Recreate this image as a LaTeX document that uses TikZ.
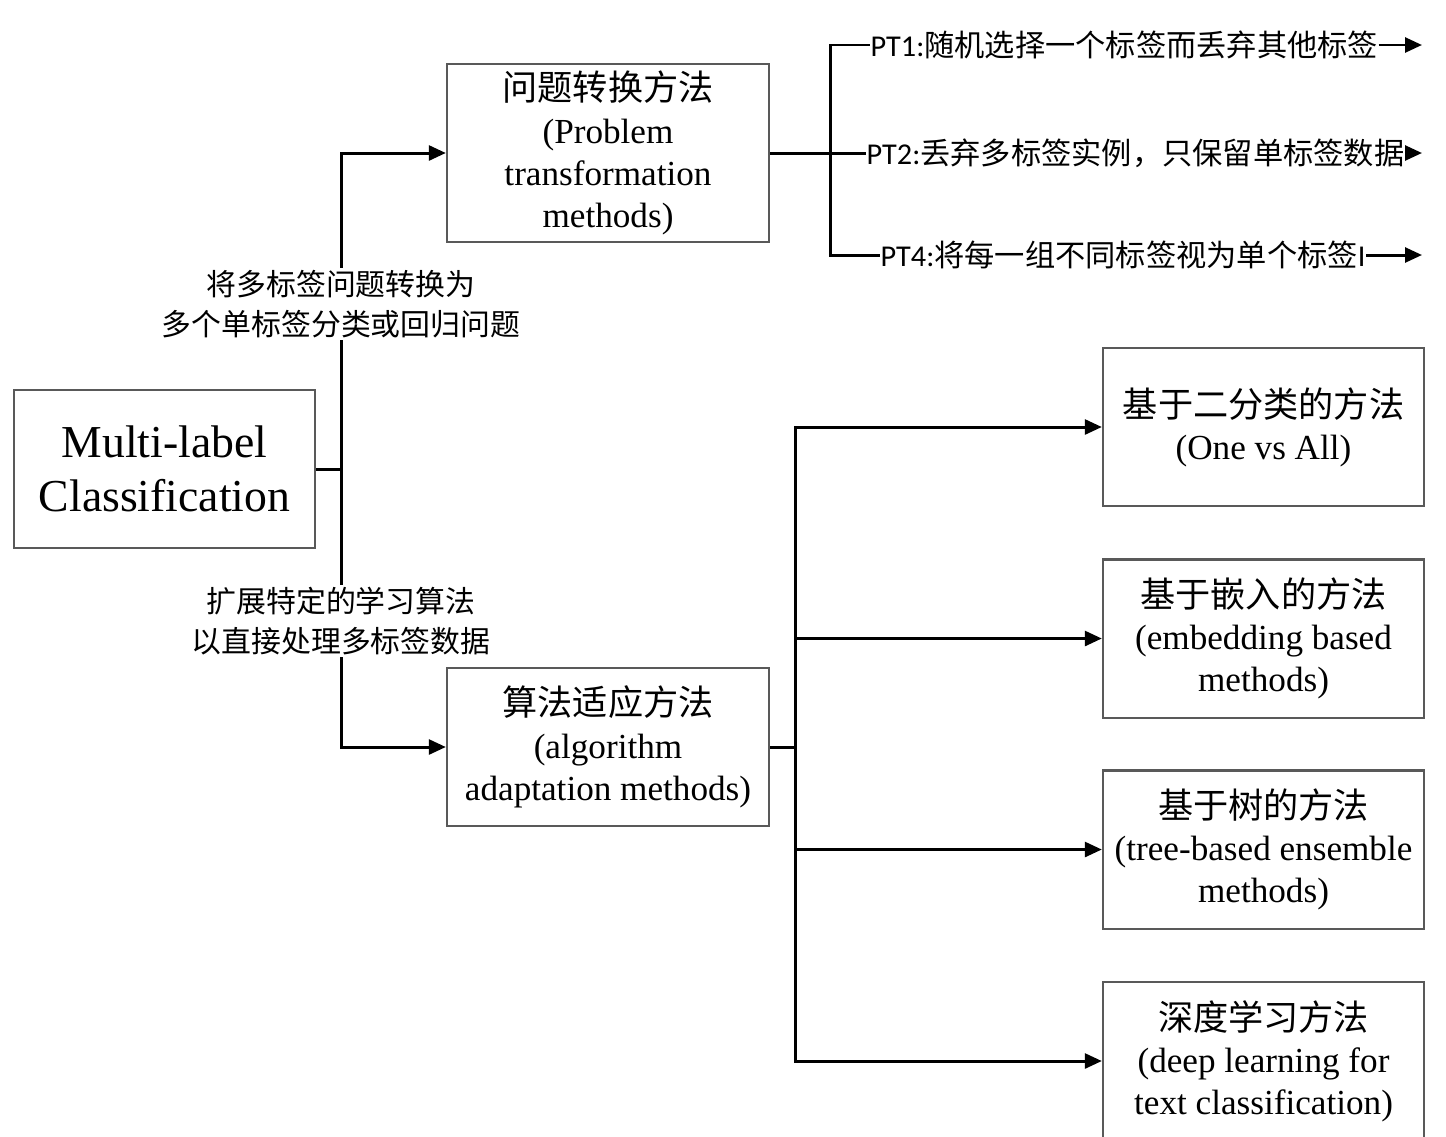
\documentclass[tikz,border=0pt]{standalone}
\usepackage{fontspec}
\setmainfont{Liberation Serif}
\newfontfamily\cjk{Noto Sans CJK SC}
\newfontfamily\ptfont{Carlito}
\usetikzlibrary{arrows.meta}

\newcommand*{\boxfont}{\fontsize{10}{12}\selectfont}

\begin{document}
\begin{tikzpicture}
[
	x=0.01cm,y=-0.01cm,
	box/.style={draw=black!65,line width=0.6pt,inner sep=0pt,align=center,
		minimum width=3.21cm,minimum height=1.58cm,font=\boxfont},
	conn/.style={line width=0.85pt},
	arrow/.style={conn,-{Triangle[length=4.8pt,width=4.2pt]}},
	note/.style={fill=white,inner sep=0.6pt,align=center,
		font=\cjk\fontsize{8.5}{11.4}\selectfont},
	ptnote/.style={inner sep=0pt,anchor=west,font=\fontsize{8.6}{10}\selectfont}
]

	\useasboundingbox (0,0) rectangle (1446,1136);

	% boxes
	\node[box,minimum width=3.01cm,font=\fontsize{13}{15.4}\selectfont] (mlc) at (164.5,469)
		{Multi-label\\Classification};
	\node[box,minimum width=3.22cm,minimum height=1.78cm] (pt) at (608,153)
		{{\cjk 问题转换方法}\\(Problem\\transformation\\methods)};
	\node[box,minimum width=3.22cm] (aa) at (608,747)
		{{\cjk 算法适应方法}\\(algorithm\\adaptation methods)};

	\node[box] (r1) at (1263.5,427) {{\cjk 基于二分类的方法}\\(One vs All)};
	\node[box] (r2) at (1263.5,638.5) {{\cjk 基于嵌入的方法}\\(embedding based\\methods)};
	\node[box] (r3) at (1263.5,849.5) {{\cjk 基于树的方法}\\(tree-based ensemble\\methods)};
	\node[box] (r4) at (1263.5,1061) {{\cjk 深度学习方法}\\(deep learning for\\text classification)};

	% trunk
	\coordinate (trunk) at (341,469);
	\draw[conn] (mlc.east) -- (trunk);
	\draw[arrow] (trunk) |- (pt.west);
	\draw[arrow] (trunk) |- (aa.west);

	\node[note] (ptnote) at (341,304) {将多标签问题转换为\\多个单标签分类或回归问题};
	\node[note] (aanote) at (341,621) {扩展特定的学习算法\\以直接处理多标签数据};

	% problem transformation branches
	\coordinate (ptfork) at (830,153);
	\draw[conn] (pt.east) -- (ptfork);

	\node[ptnote] (pt1) at (870,45) {{\ptfont PT1:}{\cjk 随机选择一个标签而丢弃其他标签}};
	\node[ptnote] (pt2) at (866,153) {{\ptfont PT2:}{\cjk 丢弃多标签实例，只保留单标签数据}};
	\node[ptnote] (pt4) at (880,255) {{\ptfont PT4:}{\cjk 将每一组不同标签视为单个标签}{\ptfont I}};

	\foreach \p in {pt1,pt2,pt4} {
		\draw[conn] (ptfork) |- (\p.west);
		\coordinate (\p end) at (1422,0 |- \p.east);
		\draw[arrow] (\p.east) -- (\p end);
	}

	% algorithm adaptation branches
	\coordinate (aafork) at (795,747);
	\draw[conn] (aa.east) -- (aafork);
	\foreach \r in {r1,r2,r3,r4} {
		\draw[arrow] (aafork) |- (\r.west);
	}

\end{tikzpicture}
\end{document}
